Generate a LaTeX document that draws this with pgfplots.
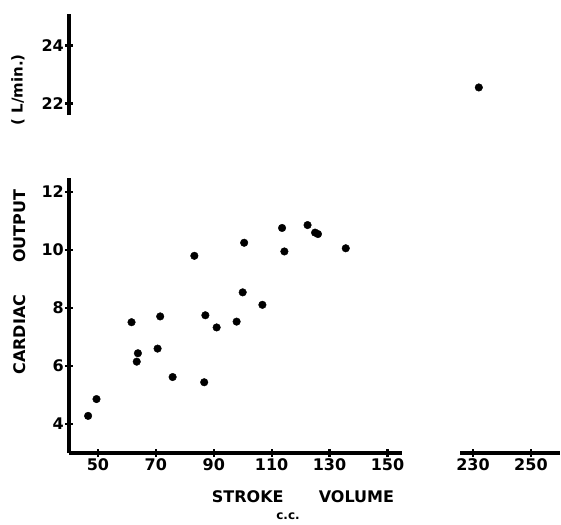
\documentclass[border=0pt]{standalone}
\usepackage{fontspec}
\setmainfont{DejaVu Sans}
\usepackage{pgfplots}
\pgfplotsset{compat=1.18}

\pgfplotsset{
  brk/.style={
    x=2.895pt, y=29pt,
    anchor=south west,
    every tick/.style={line width=2.2pt, black},
    tick align=center,
    major tick length=8pt,
    /pgf/number format/assume math mode=true,
    ticklabel style={font=\fontsize{16}{18}\selectfont\bfseries, inner sep=1pt},
    clip=false,
  },
  thickline/.style={
    axis line style={-},
    x axis line style={line width=3.2pt},
    y axis line style={line width=3.2pt}},
  dots/.style={only marks, mark=*, mark size=3.8pt, black},
}

\begin{document}
\begin{tikzpicture}
\useasboundingbox (0,0) rectangle (561pt,-524pt);

% lower left: main panel
\begin{axis}[brk, at={(69pt,-453pt)},
    xmin=40, xmax=155, ymin=3, ymax=12.5,
    axis x line=bottom, axis y line=left, thickline,
    xtick={50,70,90,110,130,150},
    ytick={4,6,8,10,12}]
\addplot[dots] coordinates {
(46.6,4.28) (49.5,4.86) (61.6,7.51) (63.8,6.44) (63.4,6.15)
(70.6,6.60) (71.5,7.71) (75.8,5.62) (83.3,9.80) (86.7,5.44)
(87.1,7.75) (91.0,7.33) (97.9,7.53) (100.0,8.54) (100.5,10.25)
(106.8,8.11) (113.6,10.76) (114.4,9.95) (122.4,10.86) (125.0,10.60)
(126.0,10.55) (135.6,10.06)
};
\end{axis}

% upper left: y axis only
\begin{axis}[brk, at={(69pt,-115pt)},
    xmin=40, xmax=155, ymin=21.6, ymax=25.1,
    axis y line=left, axis x line=none, thickline,
    xtick=\empty, ytick={22,24}]
\end{axis}

% lower right: x axis only
\begin{axis}[brk, at={(460pt,-453pt)},
    xmin=225.5, xmax=260, ymin=3, ymax=12.5,
    axis x line=bottom, axis y line=none, thickline,
    xtick={230,250}, ytick=\empty]
\end{axis}

% upper right: the outlier
\begin{axis}[brk, at={(460pt,-115pt)},
    xmin=225.5, xmax=260, ymin=21.6, ymax=25.1,
    axis lines=none, xtick=\empty, ytick=\empty]
\addplot[dots] coordinates {(232,22.55)};
\end{axis}

\node[font=\fontsize{16}{18}\selectfont\bfseries] at (303pt,-497pt) {STROKE\hspace{2.2em}VOLUME};
\node[font=\fontsize{12}{14}\selectfont\bfseries] at (288pt,-516pt) {c.c.};
\node[font=\fontsize{16}{18}\selectfont\bfseries, rotate=90] at (20pt,-282pt) {CARDIAC\hspace{2em}OUTPUT};
\node[font=\fontsize{15}{18}\selectfont\bfseries, rotate=90] at (18pt,-90pt) {( L/min.)};
\end{tikzpicture}
\end{document}
